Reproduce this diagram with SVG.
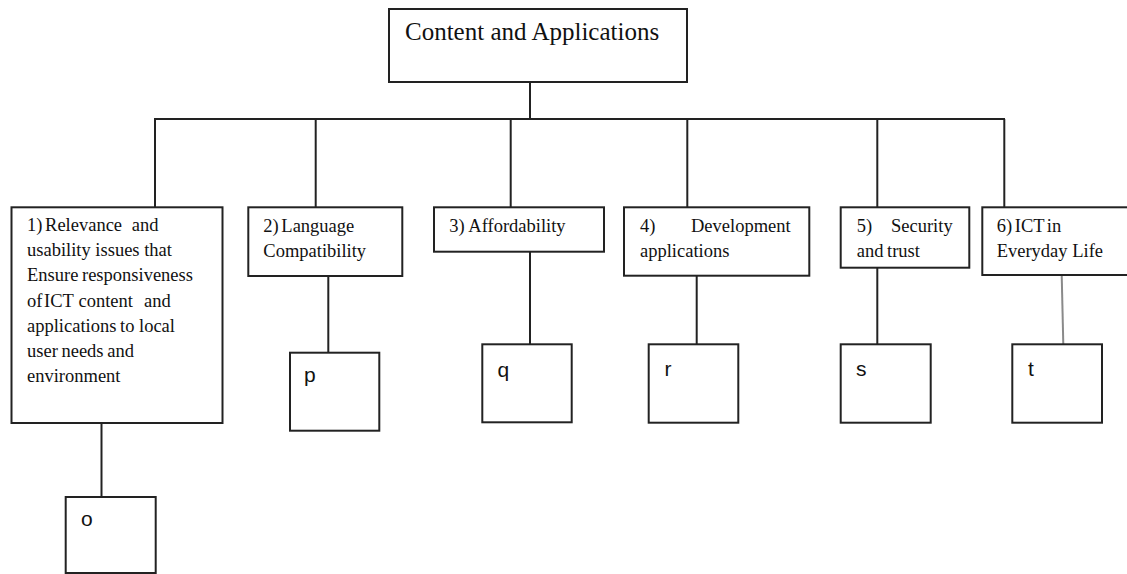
<svg xmlns="http://www.w3.org/2000/svg" width="1127" height="574" viewBox="0 0 1127 574">
<style>
.box{fill:#fff;stroke:#222;stroke-width:2}
.ln{stroke:#222;stroke-width:2;fill:none}
.gl{stroke:#8a8a8a;stroke-width:2;fill:none}
.t{font-family:"Liberation Serif","Times New Roman",serif;font-size:18.5px;fill:#111}
.h{font-family:"Liberation Serif","Times New Roman",serif;font-size:25px;fill:#111}
.s{font-family:"Liberation Sans",Arial,sans-serif;font-size:21px;fill:#111}
</style>
<rect width="1127" height="574" fill="#fff"/>
<g id="connectors">
<line class="ln" x1="530" y1="82" x2="530" y2="119"/>
<line class="ln" x1="154" y1="119" x2="1005" y2="119"/>
<line class="ln" x1="155" y1="119" x2="155" y2="207"/>
<line class="ln" x1="315.7" y1="119" x2="315.7" y2="207"/>
<line class="ln" x1="510.7" y1="119" x2="510.7" y2="207"/>
<line class="ln" x1="687.3" y1="119" x2="687.3" y2="207"/>
<line class="ln" x1="877.3" y1="119" x2="877.3" y2="207"/>
<line class="ln" x1="1004.3" y1="119" x2="1004.3" y2="207"/>
<line class="ln" x1="101.5" y1="423" x2="101.5" y2="497"/>
<line class="ln" x1="328.3" y1="276" x2="328.3" y2="352.7"/>
<line class="ln" x1="530" y1="251.7" x2="530" y2="344.3"/>
<line class="ln" x1="696.7" y1="275.7" x2="696.7" y2="344.3"/>
<line class="ln" x1="877.3" y1="267.7" x2="877.3" y2="344.3"/>
<line class="gl" x1="1061.7" y1="275" x2="1063.3" y2="344.3"/>
</g>
<g id="root">
<rect class="box" x="389" y="9" width="298" height="73"/>
<text class="h" x="405" y="40">Content and Applications</text>
</g>
<g id="n1">
<rect class="box" x="11.5" y="207.3" width="211" height="215.7"/>
<text class="t"><tspan x="27" y="231" word-spacing="-2">1) Relevance</tspan><tspan x="131.7" y="231">and</tspan></text>
<text class="t" x="27" y="256">usability issues that</text>
<text class="t" x="27" y="281.3" word-spacing="-1">Ensure responsiveness</text>
<text class="t"><tspan x="27" y="306.7" word-spacing="-3">of ICT</tspan><tspan x="78.5" y="306.7">content</tspan><tspan x="144" y="306.7">and</tspan></text>
<text class="t"><tspan x="27" y="332">applications</tspan><tspan x="120" y="332">to local</tspan></text>
<text class="t" x="27" y="357" word-spacing="-1">user needs and</text>
<text class="t" x="27" y="382.3">environment</text>
</g>
<g id="n2">
<rect class="box" x="248.3" y="207.3" width="154" height="68.7"/>
<text class="t" x="263.3" y="231.7" word-spacing="-2">2) Language</text>
<text class="t" x="263.3" y="256.7">Compatibility</text>
</g>
<g id="n3">
<rect class="box" x="434" y="207.3" width="170" height="44.4"/>
<text class="t" x="449.3" y="231.7">3) Affordability</text>
</g>
<g id="n4">
<rect class="box" x="624" y="207.3" width="185.3" height="68.4"/>
<text class="t"><tspan x="640" y="231.7">4)</tspan><tspan x="691" y="231.7">Development</tspan></text>
<text class="t" x="640" y="256.7">applications</text>
</g>
<g id="n5">
<rect class="box" x="840.7" y="207.3" width="128.6" height="60.4"/>
<text class="t"><tspan x="856.7" y="231.7">5)</tspan><tspan x="891" y="231.7">Security</tspan></text>
<text class="t" x="856.7" y="256.7" word-spacing="-1">and trust</text>
</g>
<g id="n6">
<rect class="box" x="982.3" y="207.3" width="150" height="67.7"/>
<text class="t" x="996.7" y="231.7" word-spacing="-2">6) ICT in</text>
<text class="t" x="996.7" y="256.7">Everyday Life</text>
</g>
<g id="o">
<rect class="box" x="65.7" y="497" width="90" height="76"/>
<text class="s" x="81" y="526">o</text>
</g>
<g id="p">
<rect class="box" x="290" y="352.7" width="89.3" height="78"/>
<text class="s" x="304" y="381.5">p</text>
</g>
<g id="q">
<rect class="box" x="482.3" y="344.3" width="89.4" height="78"/>
<text class="s" x="497.5" y="376.7">q</text>
</g>
<g id="r">
<rect class="box" x="648.7" y="344.3" width="89.6" height="78.4"/>
<text class="s" x="664.5" y="375.5">r</text>
</g>
<g id="s">
<rect class="box" x="840.7" y="344.3" width="90" height="78.4"/>
<text class="s" x="856" y="375.5">s</text>
</g>
<g id="t">
<rect class="box" x="1012.3" y="344.3" width="89.7" height="78.4"/>
<text class="s" x="1028" y="375.5">t</text>
</g>
</svg>
